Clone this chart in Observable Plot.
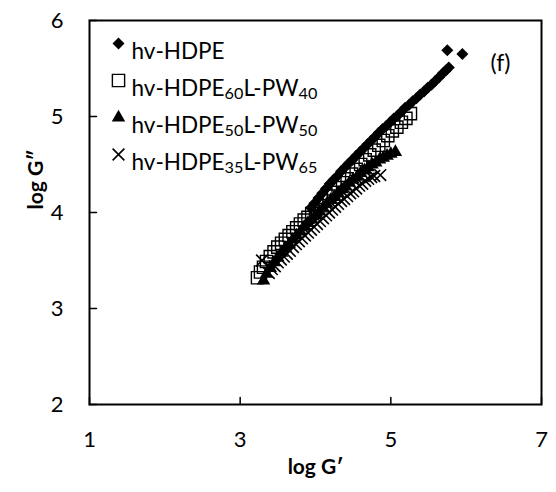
<!DOCTYPE html>
<html>
<head>
<meta charset="utf-8">
<script src="https://cdn.jsdelivr.net/npm/d3@7"></script>
<script src="https://cdn.jsdelivr.net/npm/@observablehq/plot@0.6"></script>
<style>
  html, body { margin: 0; padding: 0; background: #fff; }
  #chart svg { display: block; }
</style>
</head>
<body>
<div id="chart"></div>
<script>
const seriesNames = ["hv-HDPE", "hv-HDPE₆₀L-PW₄₀", "hv-HDPE₅₀L-PW₅₀", "hv-HDPE₃₅L-PW₆₅"];
const xTicks = [1, 3, 5, 7];
const yTicks = [2, 3, 4, 5, 6];

// hv-HDPE (filled diamonds)
const hdpeX = [3.94,3.99,4.04,4.09,4.14,4.19,4.24,4.29,4.34,4.39,4.44,4.49,4.54,4.59,4.64,4.69,4.74,4.79,4.84,4.89,4.94,4.99,5.04,5.09,5.14,5.19,5.24,5.29,5.34,5.39,5.44,5.49,5.54,5.59,5.64,5.69,5.73,5.77,5.75,5.95];
const hdpeY = [4.05,4.10,4.15,4.20,4.25,4.30,4.34,4.38,4.43,4.47,4.51,4.55,4.59,4.63,4.67,4.71,4.75,4.79,4.83,4.87,4.90,4.94,4.98,5.01,5.05,5.09,5.12,5.16,5.19,5.23,5.26,5.30,5.33,5.37,5.41,5.45,5.48,5.51,5.69,5.65];

// hv-HDPE60L-PW40 (open squares)
const pw40X = [3.23,3.27,3.31,3.35,3.40,3.45,3.50,3.55,3.60,3.65,3.70,3.75,3.80,3.85,3.90,3.95,4.00,4.06,4.12,4.18,4.24,4.30,4.36,4.42,4.48,4.54,4.60,4.66,4.72,4.78,4.84,4.90,4.96,5.02,5.08,5.14,5.20,5.26];
const pw40Y = [3.32,3.38,3.43,3.49,3.54,3.59,3.64,3.68,3.72,3.76,3.80,3.84,3.88,3.92,3.95,3.99,4.03,4.07,4.12,4.17,4.21,4.26,4.31,4.35,4.40,4.45,4.50,4.55,4.60,4.65,4.70,4.75,4.80,4.85,4.89,4.94,4.98,5.03];

// hv-HDPE50L-PW50 (filled triangles)
const pw50X = [3.31,3.35,3.40,3.45,3.50,3.55,3.60,3.65,3.70,3.75,3.80,3.85,3.90,3.95,4.00,4.05,4.10,4.15,4.20,4.25,4.30,4.35,4.40,4.45,4.50,4.55,4.60,4.65,4.70,4.75,4.80,4.85,4.90,4.95,5.00,5.06];
const pw50Y = [3.29,3.36,3.42,3.48,3.53,3.58,3.63,3.67,3.72,3.76,3.80,3.85,3.89,3.93,3.97,4.01,4.05,4.09,4.13,4.16,4.20,4.24,4.27,4.31,4.34,4.37,4.41,4.44,4.47,4.50,4.52,4.55,4.57,4.59,4.61,4.63];

// hv-HDPE35L-PW65 (crosses)
const pw65X = [3.29,3.38,3.42,3.46,3.50,3.54,3.58,3.62,3.66,3.70,3.74,3.78,3.82,3.86,3.90,3.94,3.98,4.02,4.06,4.10,4.14,4.18,4.22,4.26,4.30,4.34,4.38,4.42,4.46,4.50,4.54,4.58,4.62,4.66,4.70,4.74,4.78,4.86];
const pw65Y = [3.50,3.37,3.41,3.44,3.48,3.51,3.54,3.57,3.60,3.64,3.67,3.70,3.73,3.76,3.79,3.82,3.85,3.88,3.91,3.94,3.97,4.00,4.03,4.06,4.09,4.12,4.14,4.17,4.20,4.22,4.25,4.28,4.30,4.33,4.35,4.37,4.38,4.39];

const toRows = (xs, ys) => xs.map((x, i) => ({x, y: ys[i]}));
const hdpe = toRows(hdpeX, hdpeY);
const pw40 = toRows(pw40X, pw40Y);
const pw50 = toRows(pw50X, pw50Y);
const pw65 = toRows(pw65X, pw65Y);

const FONT = "Lato, 'Open Sans', sans-serif";
const tickShape = { draw(ctx, l) { ctx.moveTo(0, 0); ctx.lineTo(0, -l); } };

const styles = [
  {symbol: "diamond2", fill: "black", stroke: "none", r: 5.4, sw: 0},
  {symbol: "square", fill: "none", stroke: "black", r: 6.9, sw: 1.4},
  {symbol: "triangle", fill: "black", stroke: "none", r: 5.0, sw: 0},
  {symbol: "times", fill: "none", stroke: "black", r: 5.4, sw: 1.6}
];
const seriesData = [hdpe, pw40, pw50, pw65];

const dataMarks = seriesData.map((rows, i) => {
  const s = styles[i];
  return Plot.dot(rows, {x: "x", y: "y", symbol: () => s.symbol, r: s.r, fill: s.fill, stroke: s.stroke, strokeWidth: s.sw});
});

const legendMarks = seriesNames.flatMap((name, i) => {
  const s = styles[i];
  return [
    Plot.dot([name], {frameAnchor: "top-left", dx: 29, dy: 23 + i * 37, symbol: () => s.symbol, r: s.r,
      fill: s.fill, stroke: s.stroke, strokeWidth: s.sw}),
    Plot.text([name], {frameAnchor: "top-left", dx: 42, dy: 23 + i * 37, text: d => d, textAnchor: "start",
      fontSize: 22.5, fontFamily: FONT, fill: "black"})
  ];
});

const chart = Plot.plot({
  width: 556,
  height: 492,
  marginLeft: 89,
  marginRight: 15,
  marginTop: 20,
  marginBottom: 88,
  style: {fontFamily: FONT, background: "white"},
  x: {domain: [1, 7]},
  y: {domain: [2, 6]},
  marks: [
    Plot.axisX({ticks: xTicks, tickSize: 0, tickPadding: 27, fontSize: 22, label: null, tickFormat: d3.format("d")}),
    Plot.axisY({ticks: yTicks, tickSize: 0, tickPadding: 26, fontSize: 22, label: null, tickFormat: d3.format("d")}),
    Plot.vector(xTicks, {x: d => d, frameAnchor: "bottom", length: 7, anchor: "start", shape: tickShape, strokeWidth: 1.5}),
    Plot.vector(yTicks, {y: d => d, frameAnchor: "left", length: 7, rotate: 90, anchor: "start", shape: tickShape, strokeWidth: 1.5}),
    ...dataMarks,
    ...legendMarks,
    Plot.text(["(f)"], {frameAnchor: "top-right", dx: -31, dy: 34, text: d => d, textAnchor: "end", fontSize: 23, fontFamily: FONT}),
    Plot.text(["log G′"], {frameAnchor: "bottom", dy: 69, text: d => d, fontSize: 21, fontWeight: "bold", fontFamily: FONT}),
    Plot.text(["log G″"], {frameAnchor: "left", dx: -53, dy: -3, rotate: -90, text: d => d, fontSize: 21, fontWeight: "bold", fontFamily: FONT}),
    Plot.frame({stroke: "black", strokeWidth: 2})
  ]
});

// Render Unicode subscript digits as real smaller, lowered text (tspans)
const subMap = {"₀":"0","₁":"1","₂":"2","₃":"3","₄":"4","₅":"5","₆":"6","₇":"7","₈":"8","₉":"9"};
chart.querySelectorAll("text").forEach(t => {
  const s = t.textContent;
  if (!/[₀-₉]/.test(s)) return;
  const parts = s.match(/[₀-₉]+|[^₀-₉]+/g);
  while (t.firstChild) t.removeChild(t.firstChild);
  let shifted = false;
  parts.forEach(p => {
    const ts = document.createElementNS("http://www.w3.org/2000/svg", "tspan");
    if (/[₀-₉]/.test(p)) {
      ts.textContent = p.replace(/[₀-₉]/g, c => subMap[c]);
      ts.setAttribute("font-size", "0.72em");
      ts.setAttribute("dy", "2.5");
      shifted = true;
    } else {
      ts.textContent = p;
      if (shifted) { ts.setAttribute("dy", "-2.5"); shifted = false; }
    }
    t.appendChild(ts);
  });
});

document.getElementById("chart").append(chart);
</script>
</body>
</html>
